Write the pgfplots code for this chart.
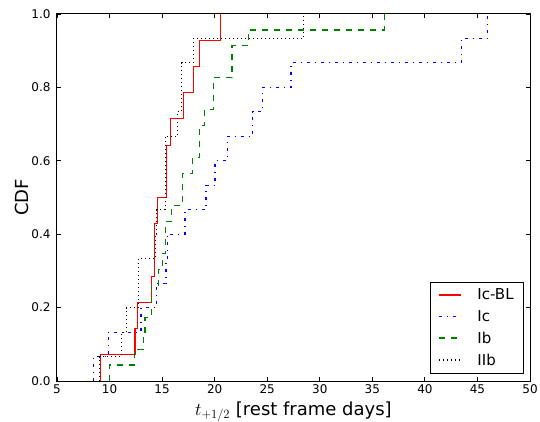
\documentclass[border=0pt]{standalone}
\usepackage{fix-cm}
\usepackage{fontspec}
\setmainfont{DejaVu Sans}
\usepackage{pgfplots}
\pgfplotsset{compat=1.18}
\definecolor{mplred}{rgb}{1,0,0}
\definecolor{mplblue}{rgb}{0,0,1}
\definecolor{mplgreen}{rgb}{0,0.5,0}
\begin{document}
\begin{tikzpicture}
\begin{axis}[
  name=ax,
  width=473pt, height=367pt, scale only axis,
  xmin=5, xmax=50, ymin=0, ymax=1,
  xtick={5,10,15,20,25,30,35,40,45,50},
  ytick={0,0.2,0.4,0.6,0.8,1},
  yticklabel style={/pgf/number format/fixed, /pgf/number format/fixed zerofill, /pgf/number format/precision=1, xshift=-3pt},
  /pgf/number format/assume math mode=true,
  tick label style={font=\fontsize{12}{14}\selectfont},
  tick align=inside, major tick length=4pt,
  axis line style={line width=1pt},
  every tick/.style={black, line width=0.8pt},
  xlabel={$t_{+1/2}$ [rest frame days]},
  ylabel={CDF},
  label style={font=\fontsize{18}{20}\selectfont},
  xlabel style={at={(axis description cs:0.5,-0.093)}, anchor=base},
  ylabel style={at={(axis description cs:-0.075,0.5)}, anchor=center},
  legend style={at={(1,0)}, anchor=south east, xshift=-6pt, yshift=7pt,
    line width=0.8pt, font=\fontsize{15}{15}\selectfont,
    inner xsep=8pt, inner ysep=5pt, row sep=5pt,
    /tikz/every odd column/.append style={column sep=14pt}},
  legend cell align=left,
  legend image code/.code={\draw[#1, line width=1.3pt] (0pt,0.3pt) -- (22pt,0.3pt);},
]
\addplot[const plot, color=mplred, draw=mplred, line width=1.1pt] coordinates {
(9.16,0) (9.16,0.0714) (12.42,0.1429) (12.64,0.2143) (14.0,0.2857) (14.25,0.4286)
(14.58,0.5) (15.45,0.6429) (15.8,0.7143) (17.03,0.7857) (17.96,0.8571) (18.52,0.9286) (20.57,1.0)};
\addlegendentry{Ic-BL}
\addplot[const plot, color=mplblue, draw=mplblue, line width=1.1pt, dash pattern=on 3pt off 5pt on 1pt off 5pt] coordinates {
(8.45,0) (8.45,0.0667) (9.88,0.1333) (12.99,0.2) (14.48,0.2667) (15.37,0.3333) (15.5,0.4)
(17.18,0.4667) (19.18,0.5333) (20.03,0.6) (21.24,0.6667) (23.6,0.7333) (24.57,0.8)
(27.26,0.8667) (43.5,0.9333) (45.97,1.0)};
\addlegendentry{Ic}
\addplot[const plot, color=mplgreen, draw=mplgreen, line width=1.1pt, dash pattern=on 6pt off 6pt] coordinates {
(9.98,0) (9.98,0.0435) (12.36,0.0870) (13.2,0.1304) (13.37,0.1739) (14.0,0.2609) (14.64,0.3043)
(15.02,0.3478) (15.28,0.4348) (15.88,0.4783) (16.97,0.5652) (17.9,0.6087) (18.54,0.6957)
(19.0,0.7391) (19.9,0.8261) (21.65,0.9130) (23.2,0.9565) (36.14,1.0)};
\addlegendentry{Ib}
\addplot[const plot, color=black, draw=black, line width=1.1pt, dash pattern=on 1pt off 3pt] coordinates {
(9.05,0) (9.05,0.0667) (11.12,0.1333) (11.6,0.2) (12.74,0.3333) (14.39,0.4) (14.5,0.4667)
(15.28,0.6667) (16.5,0.7333) (16.88,0.8667) (17.97,0.9333) (28.44,1.0)};
\addlegendentry{IIb}
\end{axis}
\pgfresetboundingbox
\path ([shift={(-57pt,-40pt)}]ax.south west) rectangle ([shift={(10pt,14pt)}]ax.north east);
\end{tikzpicture}
\end{document}
